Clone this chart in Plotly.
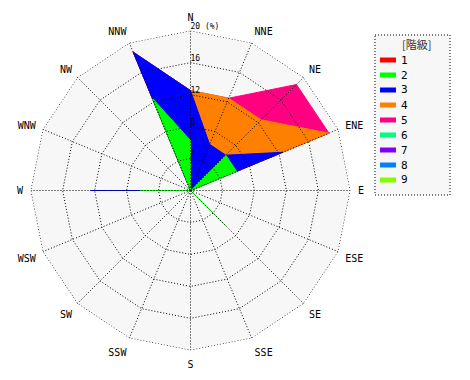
import plotly.graph_objects as go

# ---- data ----
directions = ["N", "NNE", "NE", "ENE", "E", "ESE", "SE", "SSE",
              "S", "SSW", "SW", "WSW", "W", "WNW", "NW", "NNW"]
class_names = ["1", "2", "3", "4", "5", "6", "7", "8", "9"]
class_colors = ["#ff0000", "#00ff00", "#0000ff", "#ff8000", "#ff0080",
                "#00ff80", "#8000ff", "#0080ff", "#80ff00"]
# frequency (%) per class, per direction (order as in `directions`)
c1 = [0, 0, 0, 0, 0, 0, 0, 0, 0, 0, 0, 0, 0, 0, 0, 0]
c2 = [6.25, 0, 6.25, 6.25, 0, 0, 6.25, 0, 0, 0, 0, 0, 6.25, 0, 0, 12.5]
c3 = [6.25, 6.25, 0, 6.25, 0, 0, 0, 0, 0, 0, 0, 0, 6.25, 0, 0, 6.25]
c4 = [0, 6.25, 6.25, 6.25, 0, 0, 0, 0, 0, 0, 0, 0, 0, 0, 0, 0]
c5 = [0, 0, 6.25, 0, 0, 0, 0, 0, 0, 0, 0, 0, 0, 0, 0, 0]
c6 = [0] * 16
c7 = [0] * 16
c8 = [0] * 16
c9 = [0] * 16
classes = [c1, c2, c3, c4, c5, c6, c7, c8, c9]
radial_ticks = [0, 4, 8, 12, 16, 20]
radial_labels = ["0", "4", "8", "12", "16", "20 (%)"]

W, H = 470, 380
CX, CY, R = 190.5, 190.5, 160

mono = "DejaVu Sans Mono"
DOT = "1px,2px"
closed = directions + [directions[0]]
rmax = radial_ticks[-1]

# cumulative sums
cums = []
run = [0.0] * 16
for c in classes:
    run = [a + b for a, b in zip(run, c)]
    cums.append(run)

fig = go.Figure()
# grey polygonal plot background out to the outer ring
fig.add_trace(go.Scatterpolar(
    r=[rmax] * len(closed), theta=closed,
    mode="lines", fill="toself", fillcolor="#f7f7f7", line=dict(width=0),
    showlegend=False, hoverinfo="skip"))
# draw outermost cumulative first
for k in range(len(classes) - 1, -1, -1):
    if sum(classes[k]) == 0:
        continue
    fig.add_trace(go.Scatterpolar(
        r=cums[k] + [cums[k][0]], theta=closed, mode="lines", fill="toself",
        fillcolor=class_colors[k], line=dict(width=1, color=class_colors[k]),
        name=class_names[k], showlegend=False, hoverinfo="skip"))

# dotted grid drawn above the fills (rings at radial ticks, spokes at directions)
for t in radial_ticks[1:]:
    fig.add_trace(go.Scatterpolar(
        r=[t] * len(closed), theta=closed, mode="lines",
        line=dict(color="black", width=1, dash=DOT),
        showlegend=False, hoverinfo="skip"))
for d in directions:
    fig.add_trace(go.Scatterpolar(
        r=[0, rmax], theta=[d, d], mode="lines",
        line=dict(color="black", width=1, dash=DOT),
        showlegend=False, hoverinfo="skip"))

# radial tick labels along the N spoke
fig.add_trace(go.Scatterpolar(
    r=radial_ticks, theta=[directions[0]] * len(radial_ticks), mode="text",
    text=radial_labels, textposition="top right",
    textfont=dict(family=mono, size=8, color="black"),
    showlegend=False, hoverinfo="skip", cliponaxis=False))

# center dot
fig.add_trace(go.Scatterpolar(r=[0], theta=[directions[0]], mode="markers",
                              marker=dict(color="black", size=5),
                              showlegend=False, hoverinfo="skip"))

fig.update_layout(
    width=W, height=H,
    margin=dict(l=0, r=0, t=0, b=0),
    paper_bgcolor="white",
    showlegend=False,
    polar=dict(
        domain=dict(x=[(CX - R) / W, (CX + R) / W],
                    y=[(H - CY - R) / H, (H - CY + R) / H]),
        gridshape="linear",
        bgcolor="rgba(0,0,0,0)",
        radialaxis=dict(range=[0, 20.02], tickvals=radial_ticks,
                        showticklabels=False, angle=90,
                        showline=False, ticks="", showgrid=False),
        angularaxis=dict(type="category", categoryarray=directions,
                         rotation=90, direction="clockwise",
                         showline=False, ticks="outside", ticklen=5,
                         tickcolor="rgba(0,0,0,0)", showgrid=False,
                         tickfont=dict(family=mono, size=10, color="black")),
    ),
)

# ---- legend (drawn manually to match the boxed legend) ----
def px(x):
    return x / W

def py(y):
    return 1 - y / H

shapes = [dict(type="rect", xref="paper", yref="paper",
               x0=px(375), x1=px(450), y0=py(35), y1=py(195),
               fillcolor="#f7f7f7", line=dict(color="black", width=1, dash=DOT),
               layer="below")]
annotations = [dict(text="[階級]", xref="paper", yref="paper", x=px(416), y=py(44),
                    showarrow=False, xanchor="center", yanchor="middle",
                    font=dict(family="Noto Sans CJK JP", size=11, color="#333"))]
for i, (nm, col) in enumerate(zip(class_names, class_colors)):
    yc = 60 + 15 * i
    shapes.append(dict(type="rect", xref="paper", yref="paper",
                       x0=px(380), x1=px(396), y0=py(yc - 2.5), y1=py(yc + 2.5),
                       fillcolor=col, line=dict(width=0)))
    annotations.append(dict(text=nm, xref="paper", yref="paper", x=px(399), y=py(yc),
                            showarrow=False, xanchor="left", yanchor="middle",
                            font=dict(family=mono, size=11, color="black")))
fig.update_layout(shapes=shapes, annotations=annotations)

fig.write_html("out.html", config={"displayModeBar": False},
               post_script="document.body.style.margin='0';")
